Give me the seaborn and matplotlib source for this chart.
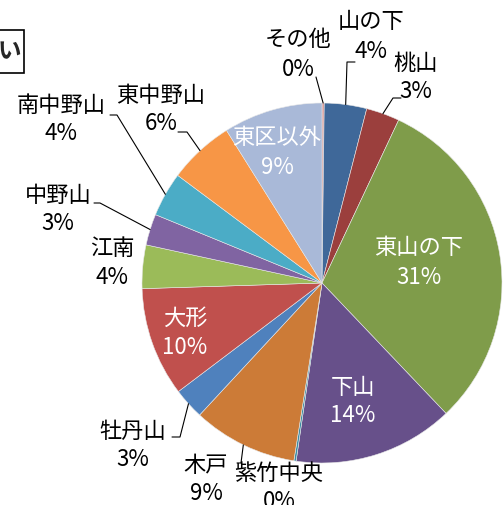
import numpy as np
import matplotlib
matplotlib.use("Agg")
import matplotlib.pyplot as plt
import seaborn as sns
from matplotlib.patches import Rectangle

# data, clockwise from 12 o'clock
areas = ["その他", "山の下", "桃山", "東山の下", "下山", "紫竹中央", "木戸",
         "牡丹山", "大形", "江南", "中野山", "南中野山", "東中野山", "東区以外"]
shares = [0.2, 3.8, 3.0, 30.9, 14.4, 0.2, 9.4, 2.8, 9.8, 3.9, 2.8, 4.0, 5.9, 8.9]
colors = ["#D99795", "#3F6899", "#9B3F3D", "#7F9C4A", "#67508A", "#3B8DA4",
          "#CC7B37", "#4F81BD", "#C0504D", "#9BBB59", "#8064A2", "#4BACC6",
          "#F79646", "#A9B9D8"]

W, H = 504, 505
CX, CY, R = 322, H - 283, 180

# label layout in image pixels (x, y of name line, y of percent line)
label_pos = {
    "その他": (298, 40, 69),
    "山の下": (371, 22, 51),
    "桃山": (416, 63, 91),
    "東山の下": (419, 247, 277),
    "下山": (353, 387, 416),
    "紫竹中央": (279, 473, 501),
    "木戸": (206, 465, 494),
    "牡丹山": (133, 431, 460),
    "大形": (185, 318, 347),
    "江南": (112, 248, 277),
    "中野山": (58, 195, 224),
    "南中野山": (61, 105, 134),
    "東中野山": (161, 95, 124),
    "東区以外": (277, 138, 167),
}
inside = {"東山の下", "下山", "大形", "東区以外"}
# leader line elbows (image pixels), drawn from the wedge edge
leaders = {
    "その他": [(316, 77)],
    "山の下": [(347, 62), (355, 62)],
    "桃山": [(393, 98), (401, 98)],
    "木戸": [(241, 463), (237, 463)],
    "牡丹山": [(180, 437), (172, 437)],
    "中野山": [(100, 203), (94, 203)],
    "南中野山": [(117, 115), (110, 115)],
    "東中野山": [(187, 132), (178, 132)],
}

sns.set_style("white")
plt.rcParams["font.family"] = ["Noto Sans CJK JP", "DejaVu Sans"]

fig = plt.figure(figsize=(W / 100, H / 100), dpi=100)
ax = fig.add_axes([0, 0, 1, 1])

wedges, _ = ax.pie(shares, colors=colors, startangle=90, counterclock=False,
                   center=(CX, CY), radius=R, frame=True,
                   wedgeprops=dict(edgecolor="#E8E8E8", linewidth=0.4))
ax.set_xlim(0, W)
ax.set_ylim(0, H)
ax.set_aspect("equal")
ax.axis("off")

total = sum(shares)
for name, val, w in zip(areas, shares, wedges):
    x, y1, y2 = label_pos[name]
    col = "white" if name in inside else "black"
    pct = f"{round(val / total * 100)}%"
    ax.text(x, H - y1, name, ha="center", va="center", fontsize=16, color=col)
    ax.text(x, H - y2, pct, ha="center", va="center", fontsize=16, color=col)
    if name in leaders:
        mid = np.deg2rad((w.theta1 + w.theta2) / 2)
        pts = [(CX + R * np.cos(mid), CY + R * np.sin(mid))]
        pts += [(px, H - py) for px, py in leaders[name]]
        xs, ys = zip(*pts)
        ax.plot(xs, ys, color="black", lw=0.8)

# cropped title box at top-left
ax.add_patch(Rectangle((-40, H - 73), 64, 43, fill=False, edgecolor="black", lw=1.2))
ax.text(9, H - 51, "い", ha="center", va="center", fontsize=17, fontweight="bold")

fig.savefig("out.png", dpi=100)
